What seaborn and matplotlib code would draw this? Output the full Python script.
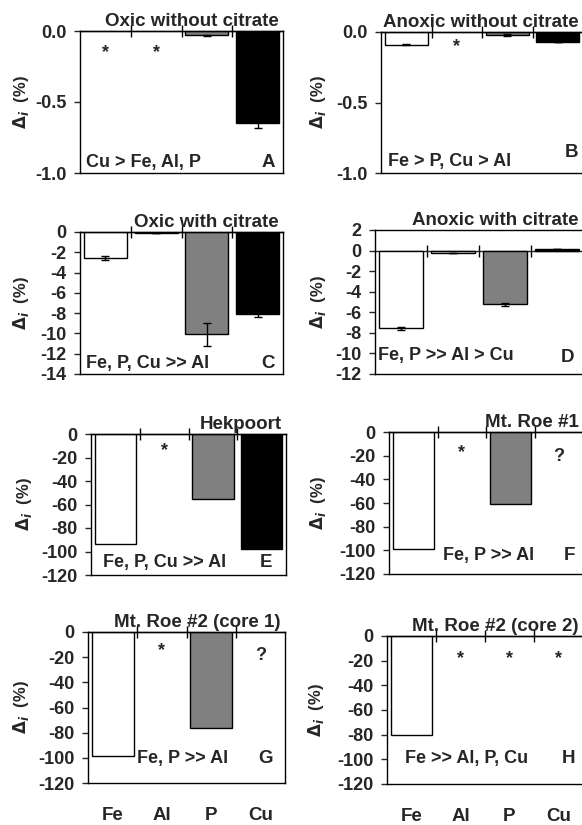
import numpy as np
import pandas as pd
import matplotlib
matplotlib.use("Agg")
import matplotlib.pyplot as plt
import seaborn as sns

elements = ["Fe", "Al", "P", "Cu"]
bar_colors = ["white", "#e8e8e8", "#808080", "black"]

# panel values (NaN = no bar, marked with * or ?)
vals_A = [np.nan, np.nan, -0.03, -0.65]
errs_A = [0, 0, 0.005, 0.03]
vals_B = [-0.09, np.nan, -0.02, -0.07]
errs_B = [0.005, 0, 0.005, 0]
vals_C = [-2.6, -0.1, -10.1, -8.1]
errs_C = [0.2, 0, 1.1, 0.25]
vals_D = [-7.55, -0.25, -5.2, 0.2]
errs_D = [0.15, 0, 0.15, 0]
vals_E = [-94, np.nan, -55, -97.5]
vals_F = [-99, np.nan, -61, np.nan]
vals_G = [-98.5, np.nan, -76, np.nan]
vals_H = [-80, np.nan, np.nan, np.nan]

titles = ["Oxic without citrate", "Anoxic without citrate", "Oxic with citrate",
          "Anoxic with citrate", "Hekpoort", "Mt. Roe #1",
          "Mt. Roe #2 (core 1)", "Mt. Roe #2 (core 2)"]
notes = ["Cu > Fe, Al, P", "Fe > P, Cu > Al", "Fe, P, Cu >> Al", "Fe, P >> Al > Cu",
         "Fe, P, Cu >> Al", "Fe, P >> Al", "Fe, P >> Al", "Fe >> Al, P, Cu"]
letters = ["A", "B", "C", "D", "E", "F", "G", "H"]

# markers for missing values: (category index, symbol)
marks_A = [(0, "*"), (1, "*")]
marks_B = [(1, "*")]
marks_E = [(1, "*")]
marks_F = [(1, "*"), (3, "?")]
marks_G = [(1, "*"), (3, "?")]
marks_H = [(1, "*"), (2, "*"), (3, "*")]

W, H = 582, 825
sns.set_style("white")
plt.rcParams["font.family"] = ["Liberation Sans", "DejaVu Sans"]
plt.rcParams["font.weight"] = "bold"
plt.rcParams["axes.unicode_minus"] = False

fig = plt.figure(figsize=(W / 100, H / 100), dpi=100)

# pixel boxes: left, right, top, bottom
boxes = [(80, 283, 31, 173), (381, 583, 32, 173),
         (80, 283, 232, 374), (375, 583, 230, 374),
         (91, 286, 434, 575), (389, 583, 432, 574),
         (88, 285, 632, 783), (387, 583, 636, 784)]

panels = [
    dict(v=vals_A, e=errs_A, ylim=(-1.0, 0), ticks=[0, -0.5, -1.0], fmt="%.1f", marks=marks_A, my=-0.15),
    dict(v=vals_B, e=errs_B, ylim=(-1.0, 0), ticks=[0, -0.5, -1.0], fmt="%.1f", marks=marks_B, my=-0.1),
    dict(v=vals_C, e=errs_C, ylim=(-14, 0), ticks=list(range(0, -15, -2)), fmt="%d", marks=[], my=0),
    dict(v=vals_D, e=errs_D, ylim=(-12, 2), ticks=list(range(2, -13, -2)), fmt="%d", marks=[], my=0),
    dict(v=vals_E, e=None, ylim=(-120, 0), ticks=list(range(0, -121, -20)), fmt="%d", marks=marks_E, my=-14),
    dict(v=vals_F, e=None, ylim=(-120, 0), ticks=list(range(0, -121, -20)), fmt="%d", marks=marks_F, my=-17),
    dict(v=vals_G, e=None, ylim=(-120, 0), ticks=list(range(0, -121, -20)), fmt="%d", marks=marks_G, my=-15),
    dict(v=vals_H, e=None, ylim=(-120, 0), ticks=list(range(0, -121, -20)), fmt="%d", marks=marks_H, my=-18),
]

# note / letter positions in axes fraction (x_note, y_note, x_letter, y_letter)
text_pos = [(0.03, 0.04, 0.96, 0.04), (0.035, 0.05, 0.975, 0.11),
            (0.03, 0.04, 0.96, 0.04), (0.015, 0.10, 0.96, 0.08),
            (0.06, 0.06, 0.93, 0.06), (0.28, 0.10, 0.96, 0.10),
            (0.25, 0.13, 0.94, 0.13), (0.09, 0.14, 0.96, 0.14)]
ylabel_x = [31, 328, 31, 328, 34, 328, 31, 326]

for i, (p, box) in enumerate(zip(panels, boxes)):
    l, r, t, b = box
    ax = fig.add_axes([l / W, 1 - b / H, (r - l) / W, (b - t) / H])
    df = pd.DataFrame({"element": elements, "value": p["v"]})
    sns.barplot(data=df, x="element", y="value", hue="element", order=elements,
                hue_order=elements, palette=bar_colors, edgecolor="black",
                linewidth=1, width=0.85, errorbar=None, legend=False, ax=ax)
    if p["e"] is not None:
        ax.errorbar(np.arange(4), p["v"], yerr=p["e"], fmt="none", ecolor="black",
                    elinewidth=1, capsize=3, capthick=1)
    ax.set_xlim(-0.5, 3.5)
    ax.set_ylim(*p["ylim"])
    ax.set_yticks(p["ticks"])
    ax.set_yticklabels([p["fmt"] % v for v in p["ticks"]])
    ax.tick_params(axis="y", left=True, length=4.5, width=1, labelsize=13, pad=5)
    for s in ax.spines.values():
        s.set_color("black")
        s.set_linewidth(1)
    if i % 2 == 1:
        ax.spines["right"].set_visible(False)

    # category axis crossing at zero with ticks between categories
    sec = ax.secondary_xaxis(0, transform=ax.transData)
    sec.set_xticks([0.5, 1.5, 2.5])
    sec.set_xticklabels([])
    sec.tick_params(direction="inout", length=8, width=1, color="black")
    sec.spines["bottom"].set_linewidth(1)

    if i >= 6:
        ax.set_xticks(range(4))
        ax.set_xticklabels(elements, fontsize=13.5, fontweight="bold")
        ax.tick_params(axis="x", length=0, pad=17)
    else:
        ax.set_xticks([])
    ax.set_xlabel("")
    ax.set_ylabel(r"$\Delta_{\it i}$  (%)", fontsize=12, fontweight="bold")
    ax.yaxis.set_label_coords((ylabel_x[i] - l) / (r - l), 0.5)

    for cat, sym in p["marks"]:
        ax.text(cat, p["my"] if sym == "*" else p["my"] - 4, sym, ha="center", va="center",
                fontsize=13 if sym == "*" else 13, fontweight="bold")

    ax.annotate(titles[i], xy=(1, 1), xycoords="axes fraction", xytext=(-3, 3.5),
                textcoords="offset points", ha="right", va="baseline",
                fontsize=13.5, fontweight="bold")
    xn, yn, xl, yl = text_pos[i]
    ax.text(xn, yn, notes[i], transform=ax.transAxes, ha="left", va="baseline",
            fontsize=13, fontweight="bold")
    ax.text(xl, yl, letters[i], transform=ax.transAxes, ha="right", va="baseline",
            fontsize=13.5, fontweight="bold")

fig.savefig("out.png", dpi=100)
